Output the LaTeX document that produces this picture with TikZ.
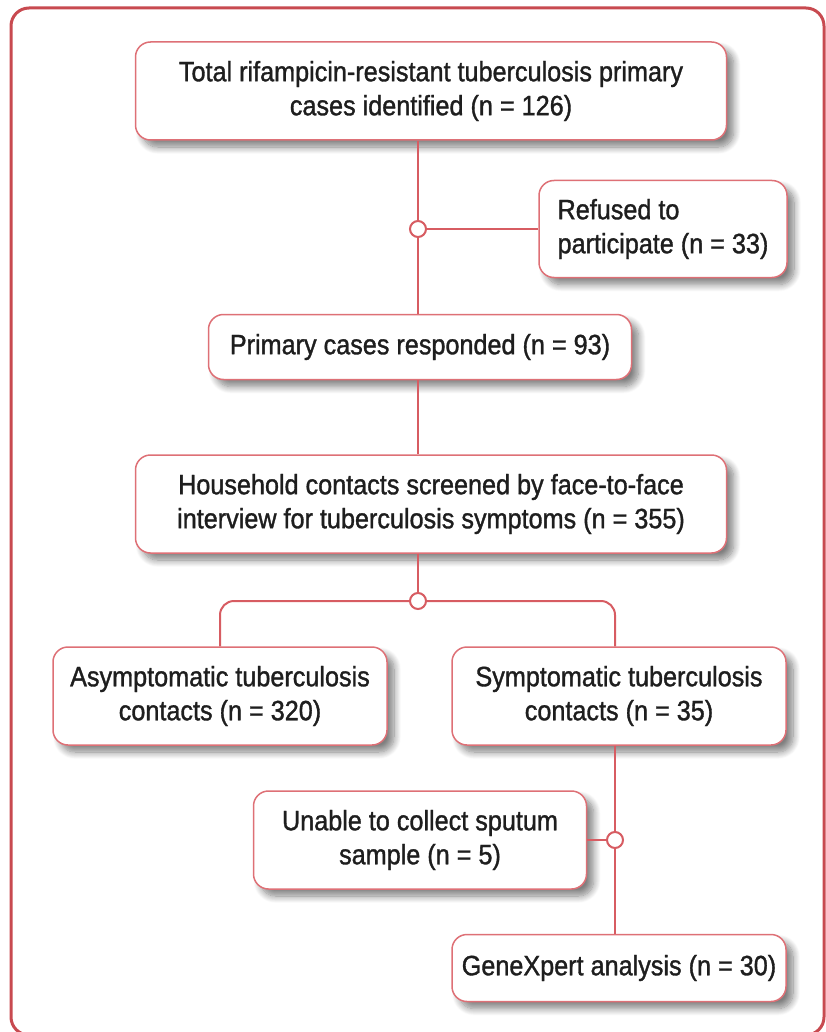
\documentclass[tikz,border=0pt]{standalone}
\usepackage{fontspec}
\setmainfont{Liberation Sans}[FakeStretch=0.9, FakeBold=1.2]
\usetikzlibrary{shadows.blur}
\definecolor{framered}{RGB}{200,74,80}
\definecolor{boxred}{RGB}{222,112,118}
\definecolor{linkred}{RGB}{215,92,98}
\definecolor{inktext}{RGB}{30,30,30}
\tikzset{
flowbox/.style={
	draw=boxred, line width=1.5pt, rounded corners=15pt, fill=white,
	align=center, inner sep=0pt, text=inktext,
	font=\fontsize{28}{34}\selectfont,
	blur shadow={shadow xshift=7pt, shadow yshift=-7pt, shadow blur radius=7pt,
		shadow blur steps=10, shadow opacity=50}},
link/.style={draw=linkred, line width=2pt},
junction/.style={circle, draw=linkred, line width=2pt, fill=white,
	minimum size=16pt, inner sep=0pt}
}

\begin{document}
\begin{tikzpicture}[x=1pt, y=-1pt]
	\useasboundingbox (0,0) rectangle (826,1032);
	\draw[framered, line width=3pt, rounded corners=18pt] (11,8) rectangle (824,1035);
	\node[flowbox, minimum width=591pt, minimum height=98pt] (total) at (431,91)
		{Total rifampicin-resistant tuberculosis primary\\cases identified (n = 126)};
	\node[flowbox, align=left, minimum width=248pt, minimum height=97pt] (refused) at (663,229)
		{Refused to\\participate (n = 33)};
	\node[flowbox, minimum width=423pt, minimum height=65pt] (respond) at (420,347)
		{Primary cases responded (n = 93)};
	\node[flowbox, minimum width=591pt, minimum height=98pt] (house) at (431,504)
		{Household contacts screened by face-to-face\\interview for tuberculosis symptoms (n = 355)};
	\node[flowbox, minimum width=334pt, minimum height=98pt] (asym) at (220,696)
		{Asymptomatic tuberculosis\\contacts (n = 320)};
	\node[flowbox, minimum width=334pt, minimum height=98pt] (sym) at (619,696)
		{Symptomatic tuberculosis\\contacts (n = 35)};
	\node[flowbox, minimum width=333pt, minimum height=98pt] (unable) at (420,840)
		{Unable to collect sputum\\sample (n = 5)};
	\node[flowbox, minimum width=334pt, minimum height=67pt] (gene) at (619,968)
		{GeneXpert analysis (n = 30)};

	\coordinate (j1) at (418,229);
	\coordinate (j2) at (418,601);
	\coordinate (j3) at (615,840);
	\draw[link] (j1 |- total.south) -- (j1 |- respond.north);
	\draw[link] (j1) -- (refused);
	\draw[link] (j1 |- respond.south) -- (j1 |- house.north);
	\draw[link] (j2 |- house.south) -- (j2);
	\draw[link, rounded corners=14pt] (asym.north) -- (asym.north |- j2)
		-- (j2 -| j3) -- (j3 |- sym.north);
	\draw[link] (j3 |- sym.south) -- (j3 |- gene.north);
	\draw[link] (j3) -- (unable);
	\node[junction] (c1) at (j1) {};
	\node[junction] (c2) at (j2) {};
	\node[junction] (c3) at (j3) {};
\end{tikzpicture}
\end{document}
